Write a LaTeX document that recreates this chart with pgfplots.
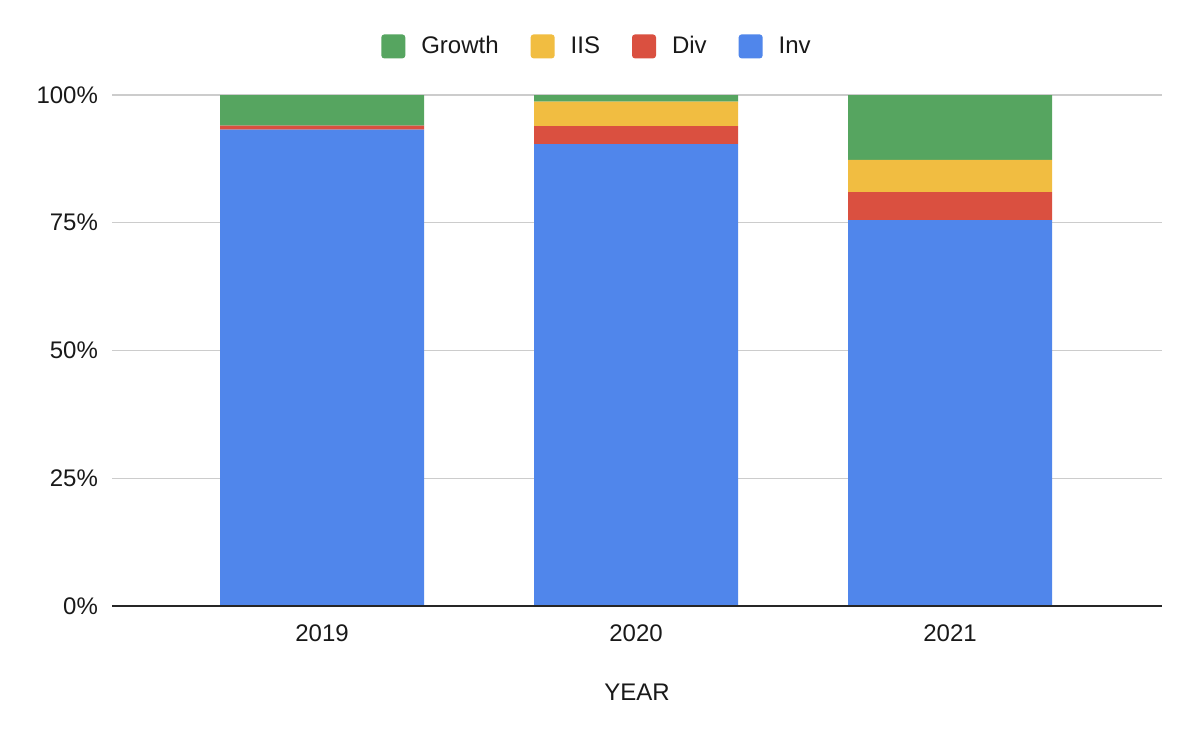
\documentclass[border=0pt]{standalone}
\usepackage{pgfplots}
\pgfplotsset{compat=1.18}
\usepackage{fontspec}
\setmainfont{Liberation Sans}
\definecolor{cInv}{HTML}{5086EB}
\definecolor{cDiv}{HTML}{DA5040}
\definecolor{cIIS}{HTML}{F1BD41}
\definecolor{cGrowth}{HTML}{56A560}
\definecolor{cGrid}{HTML}{CCCCCC}
\pgfplotsset{
  sqlegend/.style={legend image code/.code={
    \fill[##1, rounded corners=1.5pt] (0pt,-6pt) rectangle (12pt,6pt);}}
}
\begin{document}
\begin{tikzpicture}
\begin{axis}[
  name=ax,
  scale only axis,
  width=525pt, height=255.5pt,
  ybar stacked,
  bar width=0.65,
  xmin=-0.669, xmax=2.675,
  ymin=0, ymax=100,
  xtick={0,1,2},
  xticklabels={2019,2020,2021},
  ytick={0,25,50,75,100},
  yticklabels={0\%,25\%,50\%,75\%,100\%},
  ymajorgrids,
  grid style={cGrid, line width=0.6pt},
  axis line style={draw=none},
  major tick length=0pt,
  tick label style={font=\fontsize{12}{14}\selectfont, black!90},
  yticklabel style={xshift=-3.5pt},
  xticklabel style={yshift=-6pt},
  xlabel={YEAR},
  xlabel style={font=\fontsize{12}{14}\selectfont, black!90, yshift=-14pt},
  legend columns=4,
  reverse legend,
  legend style={at={(0.5,1)}, anchor=south, yshift=15pt, xshift=-19.5pt, draw=none,
    font=\fontsize{12}{14}\selectfont, text=black!90,
    /tikz/every even column/.append style={column sep=14pt}},
  legend cell align=left,
  sqlegend,
]
\addplot[fill=cInv, draw=none] coordinates {(0,93.2) (1,90.4) (2,75.5)};
\addlegendentry{\hspace{6pt}Inv}
\addplot[fill=cDiv, draw=none] coordinates {(0,0.8) (1,3.5) (2,5.5)};
\addlegendentry{\hspace{6pt}Div}
\addplot[fill=cIIS, draw=none] coordinates {(0,0) (1,4.8) (2,6.3)};
\addlegendentry{\hspace{6pt}IIS}
\addplot[fill=cGrowth, draw=none] coordinates {(0,6.0) (1,1.3) (2,12.7)};
\addlegendentry{\hspace{6pt}Growth}
\end{axis}
\draw[black!85, line width=0.8pt] (ax.south west) -- (ax.south east);
\path[use as bounding box] ([shift={(-56pt,-67pt)}]ax.south west) rectangle ([shift={(19pt,47.5pt)}]ax.north east);
\end{tikzpicture}
\end{document}
